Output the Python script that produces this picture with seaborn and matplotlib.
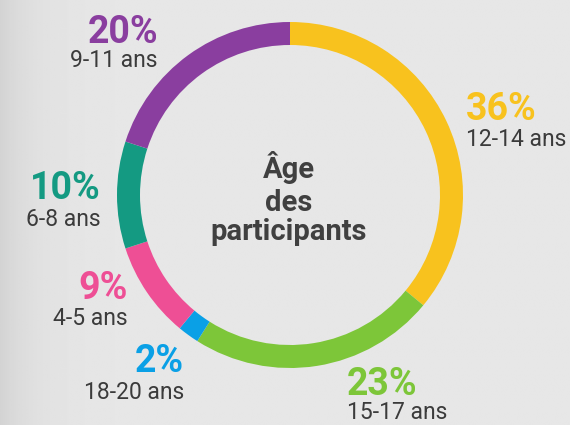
import numpy as np
import matplotlib
matplotlib.use("Agg")
import matplotlib.pyplot as plt
import seaborn as sns

# Data
categories = ["12-14 ans", "15-17 ans", "18-20 ans", "4-5 ans", "6-8 ans", "9-11 ans"]
values = [36, 23, 2, 9, 10, 20]
pct_labels = ["36%", "23%", "2%", "9%", "10%", "20%"]
colors = ["#F8C21E", "#7DC639", "#0AA0E6", "#EE4F95", "#149A82", "#8A3E9F"]
center_title = "Âge\ndes\nparticipants"

sns.set_theme(style="white")
plt.rcParams["font.family"] = ["Roboto", "DejaVu Sans"]

W, H = 570, 425
fig = plt.figure(figsize=(W / 100, H / 100), dpi=100)
bg = "#e8e9e8"
fig.patch.set_facecolor(bg)

# background gradient (scan shading on the left)
bax = fig.add_axes([0, 0, 1, 1])
bax.set_axis_off()
xs = np.linspace(0, 1, 300)
shade = 0.905 - 0.075 * np.exp(-xs / 0.06)
grad = np.tile(shade, (10, 1))
bax.imshow(grad, cmap="gray", vmin=0, vmax=1, aspect="auto", extent=[0, 1, 0, 1])

ax = fig.add_axes([0, 0, 1, 1])
ax.set_axis_off()
ax.set_xlim(0, W)
ax.set_ylim(0, H)
ax.patch.set_alpha(0)

cx, cy, R = 290, H - 195, 173
ax.pie(values, colors=colors, startangle=90, counterclock=False,
       center=(cx, cy), radius=R, frame=True,
       wedgeprops=dict(width=23, linewidth=0))
ax.set_xlim(0, W)
ax.set_ylim(0, H)
ax.set_aspect("equal")
ax.set_axis_off()

pct_size = 27
lab_size = 16.5
txt_col = "#3b3b3b"

# (x anchor, ha, pct baseline, label baseline) in pixel coords for each category
layout = {
    "12-14 ans": (466, "left", 120, 146),
    "15-17 ans": (347, "left", 395, 419),
    "18-20 ans": (184, "right", 372, 399),
    "4-5 ans": (128, "right", 299, 325),
    "6-8 ans": (101, "right", 199, 226),
    "9-11 ans": (158, "right", 43, 67),
}
for cat, pct, col in zip(categories, pct_labels, colors):
    x, ha, yb1, yb2 = layout[cat]
    ax.text(x, H - yb1, pct, color=col, fontsize=pct_size, fontweight="bold",
            ha=ha, va="baseline")
    ax.text(x, H - yb2, cat, color=txt_col, fontsize=lab_size, ha=ha, va="baseline")

for line, yb in zip(center_title.split("\n"), [178, 211, 240]):
    ax.text(289, H - yb, line, color="#404040", fontsize=21, fontweight="bold",
            ha="center", va="baseline")

fig.savefig("out.png", dpi=100, facecolor=bg)
